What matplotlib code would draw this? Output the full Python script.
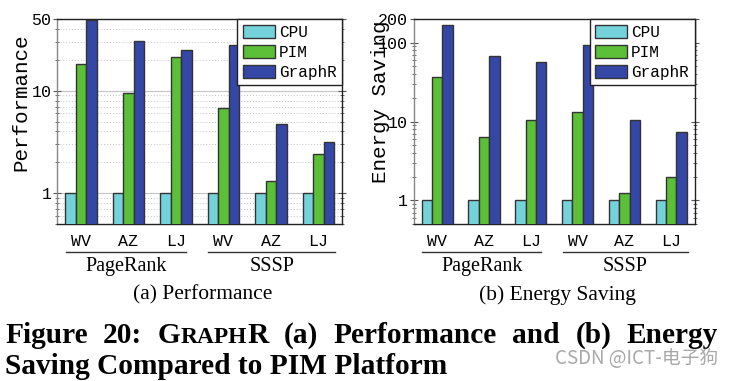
import matplotlib
matplotlib.use("Agg")
import matplotlib.pyplot as plt
from matplotlib.ticker import FixedLocator, LogLocator, NullFormatter
import numpy as np

datasets = ["WV", "AZ", "LJ", "WV", "AZ", "LJ"]
algorithms = ["PageRank", "SSSP"]
series = ["CPU", "PIM", "GraphR"]

perf_cpu = [1, 1, 1, 1, 1, 1]
perf_pim = [18.4, 9.6, 21.4, 6.8, 1.30, 2.41]
perf_graphr = [49, 30.7, 24.7, 27.6, 4.75, 3.14]

energy_cpu = [1, 1, 1, 1, 1, 1]
energy_pim = [36.6, 6.3, 10.4, 13.2, 1.25, 1.96]
energy_graphr = [169, 68.9, 57.8, 94, 10.5, 7.3]

colors = ["#74d3da", "#5bbf38", "#3447a6"]
MONO = "Liberation Mono"
SERIF = "Liberation Serif"

fig = plt.figure(figsize=(7.35, 3.81), dpi=100)


def draw_panel(rect, values, ylim, yticks, ylabel, ylabel_x, grid, caption):
    ax = fig.add_axes(rect)
    x = np.arange(len(datasets))
    w = 0.222
    for i, (vals, c, name) in enumerate(zip(values, colors, series)):
        ax.bar(x + (i - 1) * w, vals, w, color=c, edgecolor="#333333",
               linewidth=1.0, label=name, zorder=3)
    ax.set_yscale("log")
    ax.set_ylim(*ylim)
    ax.set_xlim(-0.5, len(datasets) - 0.5)
    ax.yaxis.set_major_locator(FixedLocator(yticks))
    ax.yaxis.set_major_formatter(plt.FuncFormatter(lambda v, p: f"{v:g}"))
    ax.yaxis.set_minor_locator(LogLocator(base=10, subs=np.arange(2, 10)))
    ax.yaxis.set_minor_formatter(NullFormatter())
    ax.set_xticks(x)
    ax.set_xticklabels(datasets, fontfamily=MONO, fontsize=12)
    for lab in ax.get_yticklabels():
        lab.set_fontfamily(MONO)
        lab.set_fontsize(12)
    ax.tick_params(axis="x", length=0, pad=7)
    ax.tick_params(axis="y", which="major", direction="inout", length=6,
                   right=True, pad=1, color="#555555")
    ax.tick_params(axis="y", which="minor", direction="inout", length=3,
                   right=True, color="#555555")
    if grid:
        ax.grid(True, which="major", axis="y", color="#c4c4c4", lw=0.8,
                zorder=0)
        ax.grid(True, which="minor", axis="y", color="#c4c4c4", lw=0.7,
                ls=(0, (1, 2)), zorder=0)
    ax.set_axisbelow(True)
    ax.spines["left"].set_color("#888888")
    for s in ["top", "right", "bottom"]:
        ax.spines[s].set_color("#222222")
    for s in ax.spines.values():
        s.set_linewidth(1.0)
    ax.set_ylabel(ylabel, fontfamily=MONO, fontsize=15)
    ax.yaxis.set_label_coords(ylabel_x, 0.595)

    leg = ax.legend(loc="upper right", borderaxespad=0, fancybox=False,
                    prop={"family": MONO, "size": 11.5},
                    handlelength=2.0, handleheight=0.9, labelspacing=0.3,
                    borderpad=0.35, handletextpad=0.25, framealpha=1)
    leg.get_frame().set_edgecolor("#222222")
    leg.get_frame().set_linewidth(1.0)

    # group separators under the tick labels
    tr = ax.get_xaxis_transform()
    spans = [(-0.32, 2.22), (2.68, 5.35)]
    for (a, b), name in zip(spans, algorithms):
        ax.plot([a, b], [-0.137, -0.137], color="#333333", lw=1.0,
                transform=tr, clip_on=False)
        ax.text((a + b) / 2, -0.205, name, transform=tr, ha="center",
                va="center", fontfamily=SERIF, fontsize=14.5)
    ax.text(0.51, -0.345, caption, transform=ax.transAxes, ha="center",
            va="center", fontfamily=SERIF, fontsize=15.5)
    return ax


draw_panel([0.0776, 0.412, 0.388, 0.538],
           [perf_cpu, perf_pim, perf_graphr], (0.5, 50), [1, 10, 50],
           "Performance", -0.095, True, "(a) Performance")
draw_panel([0.563, 0.412, 0.382, 0.538],
           [energy_cpu, energy_pim, energy_graphr], (0.5, 200),
           [1, 10, 100, 200], "Energy Saving", -0.085, False,
           "(b) Energy Saving")

# justified first caption line, "GraphR" in small caps
fig.canvas.draw()
renderer = fig.canvas.get_renderer()
big = 21.2
small = 16.8
words = [[("Figure", big)], [("20:", big)],
         [("G", big), ("RAPH", small), ("R", big)],
         [("(a)", big)], [("Performance", big)], [("and", big)],
         [("(b)", big)], [("Energy", big)]]
x0, x1 = 5, 718
y = 1 - 343 / 381

placed = []
for word in words:
    parts = []
    for txt, size in word:
        t = fig.text(0, y, txt, fontfamily=SERIF, fontweight="bold",
                     fontsize=size, va="baseline", ha="left")
        parts.append((t, t.get_window_extent(renderer).width))
    placed.append(parts)
total = sum(wd for parts in placed for _, wd in parts)
gap = (x1 - x0 - total) / (len(placed) - 1)
x = x0
for parts in placed:
    for t, wd in parts:
        t.set_x(x / 735)
        x += wd
    x += gap

fig.text(5 / 735, 1 - 374 / 381, "Saving Compared to PIM Platform",
         fontfamily=SERIF, fontweight="bold", fontsize=big, va="baseline",
         ha="left")

fig.text(718 / 735, 1 - 358 / 381, "CSDN @ICT-电子狗",
         fontfamily=["Noto Sans CJK SC", "DejaVu Sans"], fontsize=13.5,
         color="#a8a8a8", ha="right", va="center")

fig.savefig("out.png", dpi=100)
